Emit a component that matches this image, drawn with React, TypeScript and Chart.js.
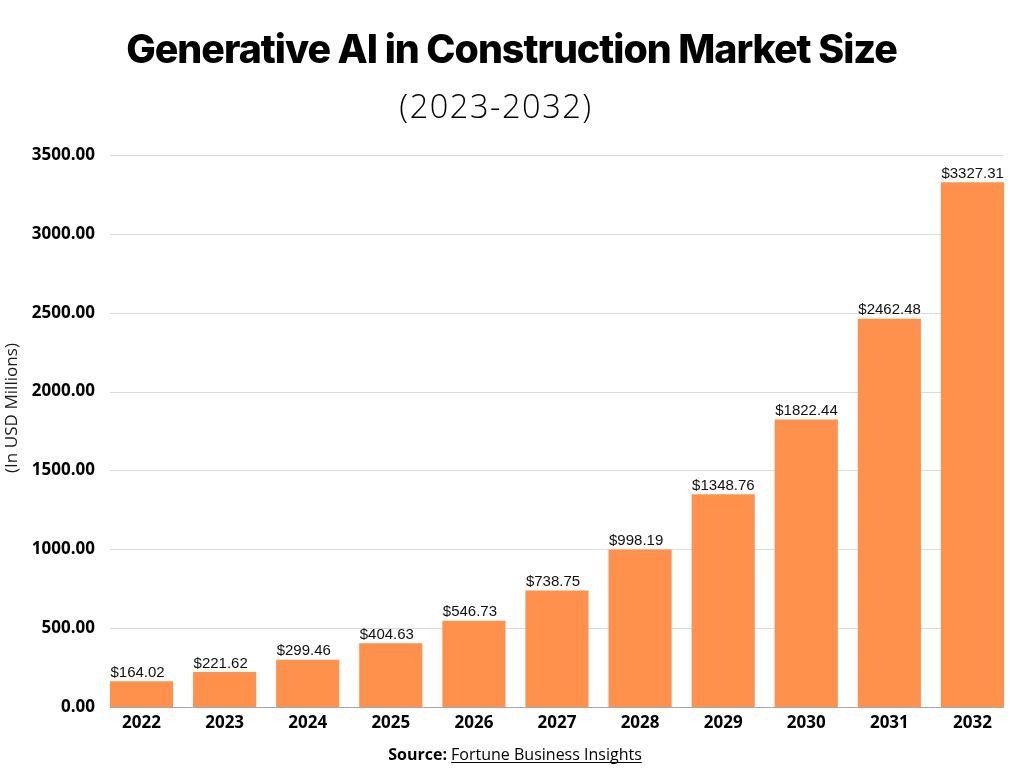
import React, { useEffect, useRef } from 'react';
import { Chart, registerables } from 'chart.js';

Chart.register(...registerables);

const years = ['2022', '2023', '2024', '2025', '2026', '2027', '2028', '2029', '2030', '2031', '2032'];
const marketSize = [164.02, 221.62, 299.46, 404.63, 546.73, 738.75, 998.19, 1348.76, 1822.44, 2462.48, 3327.31];
const yMax = 3500;
const yStep = 500;

const titleText = 'Generative AI in Construction Market Size';
const subtitleText = '(2023-2032)';
const axisTitle = '(In USD Millions)';
const sourceLabel = 'Source:';
const sourceName = 'Fortune Business Insights';

function fitFont(ctx: CanvasRenderingContext2D, text: string, weight: string, family: string, target: number, base: number) {
  ctx.font = `${weight} ${base}px ${family}`;
  const w = ctx.measureText(text).width;
  const size = base * target / w;
  ctx.font = `${weight} ${size}px ${family}`;
}

export default function App() {
  const ref = useRef<HTMLCanvasElement>(null);

  useEffect(() => {
    const overlay = {
      id: 'overlay',
      beforeDatasetsDraw(chart: any) {
        const ctx = chart.ctx as CanvasRenderingContext2D;
        const meta = chart.getDatasetMeta(0);
        const first = meta.data[0] as any;
        const last = meta.data[meta.data.length - 1] as any;
        const x0 = first.x - first.width / 2;
        const x1 = last.x + last.width / 2;
        const ys = chart.scales.y;
        ctx.save();
        ctx.lineWidth = 1;
        ys.ticks.forEach((t: any) => {
          const py = Math.round(ys.getPixelForValue(t.value)) + 0.5;
          ctx.strokeStyle = t.value === 0 ? '#a8a8a8' : '#dcdcdc';
          ctx.beginPath();
          ctx.moveTo(x0, py);
          ctx.lineTo(x1, py);
          ctx.stroke();
        });
        ctx.restore();
      },
      afterDraw(chart: any) {
        const ctx = chart.ctx as CanvasRenderingContext2D;
        const meta = chart.getDatasetMeta(0);
        ctx.save();
        // value labels
        ctx.fillStyle = '#111';
        ctx.font = '15px "Liberation Sans", Arial, sans-serif';
        ctx.textAlign = 'left';
        ctx.textBaseline = 'alphabetic';
        meta.data.forEach((bar: any, i: number) => {
          ctx.fillText(`$${marketSize[i].toFixed(2)}`, bar.x - bar.width / 2 + 0.5, bar.y - 4.5);
        });

        // title
        ctx.fillStyle = '#000';
        ctx.textAlign = 'center';
        (ctx as any).letterSpacing = '-1px';
        fitFont(ctx, titleText, '800', 'Inter, "Open Sans", sans-serif', 767, 36);
        ctx.fillText(titleText, 511.5, 63);

        // subtitle
        (ctx as any).letterSpacing = '1.5px';
        fitFont(ctx, subtitleText, '300', '"Open Sans", sans-serif', 196, 28);
        ctx.fillText(subtitleText, 496, 118);
        (ctx as any).letterSpacing = '0px';

        // y axis title
        ctx.save();
        ctx.translate(12, 408);
        ctx.rotate(-Math.PI / 2);
        fitFont(ctx, axisTitle, '400', '"Open Sans", sans-serif', 130, 15);
        ctx.fillStyle = '#1a1a1a';
        ctx.textBaseline = 'middle';
        ctx.fillText(axisTitle, 0, 0);
        ctx.restore();

        // footer
        ctx.textAlign = 'left';
        ctx.font = 'bold 16px "Open Sans", sans-serif';
        const wb = ctx.measureText(sourceLabel + ' ').width;
        ctx.font = '16px "Open Sans", sans-serif';
        const wn = ctx.measureText(sourceName).width;
        const sx = 515 - (wb + wn) / 2;
        ctx.font = 'bold 16px "Open Sans", sans-serif';
        ctx.fillText(sourceLabel + ' ', sx, 760);
        ctx.font = '16px "Open Sans", sans-serif';
        ctx.fillText(sourceName, sx + wb, 760);
        ctx.fillRect(sx + wb, 762, wn, 1);
        ctx.restore();
      },
    };

    const chart = new Chart(ref.current as HTMLCanvasElement, {
      type: 'bar',
      data: {
        labels: years,
        datasets: [
          {
            data: marketSize,
            backgroundColor: '#FF914D',
            barPercentage: 0.76,
            categoryPercentage: 1,
          },
        ],
      },
      options: {
        responsive: false,
        animation: false,
        layout: { padding: { top: 155, right: 10, left: 0, bottom: 0 } },
        plugins: {
          legend: { display: false },
          tooltip: { enabled: false },
          title: { display: false },
        },
        scales: {
          x: {
            grid: { display: false, drawTicks: false },
            border: { display: false },
            ticks: {
              color: '#000',
              font: { family: '"Open Sans", sans-serif', weight: 'bold', size: 17 },
              padding: 6,
              maxRotation: 0,
            },
            afterFit(s: any) {
              s.height = 61;
            },
          },
          y: {
            min: 0,
            max: yMax,
            grid: { display: false, drawTicks: false },
            border: { display: false },
            ticks: {
              stepSize: yStep,
              color: '#000',
              font: { family: '"Open Sans", sans-serif', weight: 'bold', size: 17 },
              padding: 5,
              callback: (v: any) => Number(v).toFixed(2),
            },
            afterFit(s: any) {
              s.width = 100;
            },
          },
        },
      },
      plugins: [overlay],
    } as any);

    return () => chart.destroy();
  }, []);

  return (
    <div style={{ position: 'fixed', left: 0, top: 0, width: 1024, height: 768, background: '#fff' }}>
      <canvas ref={ref} width={1024} height={768} style={{ display: 'block' }} />
    </div>
  );
}
